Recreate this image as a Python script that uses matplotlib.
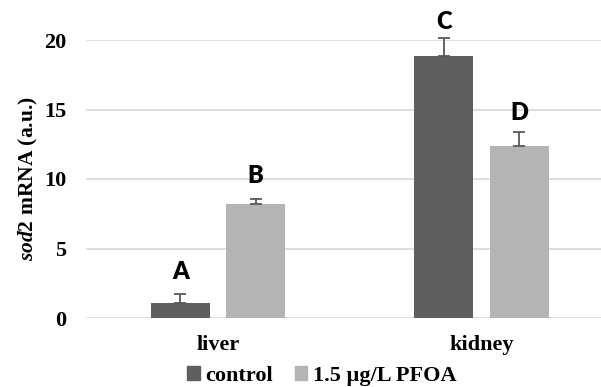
import matplotlib
matplotlib.use("Agg")
import matplotlib.pyplot as plt
from matplotlib.patches import Patch
import numpy as np

plt.rcParams["mathtext.fontset"] = "custom"
plt.rcParams["mathtext.it"] = "Liberation Serif:italic:bold"
plt.rcParams["mathtext.rm"] = "Liberation Serif:bold"
plt.rcParams["mathtext.bf"] = "Liberation Serif:bold"

categories = ["liver", "kidney"]
series_names = ["control", "1.5 µg/L PFOA"]
control_vals = [1.1, 18.85]
control_err = [0.6, 1.3]
pfoa_vals = [8.18, 12.37]
pfoa_err = [0.4, 1.0]
control_letters = ["A", "C"]
pfoa_letters = ["B", "D"]
yticks = [0, 5, 10, 15, 20]

W, H = 601, 387
fig = plt.figure(figsize=(W / 100, H / 100), dpi=100)
left_px, right_px, top_px, bot_px = 86, 601, 40, 318
ax = fig.add_axes([left_px / W, 1 - bot_px / H, (right_px - left_px) / W, (bot_px - top_px) / H])

c_dark = "#5f5f5f"
c_light = "#b4b4b4"
x = np.arange(len(categories))
off = 0.1425
bw = 0.224
ax.bar(x - off, control_vals, bw, color=c_dark, zorder=3)
ax.bar(x + off, pfoa_vals, bw, color=c_light, zorder=3)
ekw = dict(fmt="none", ecolor="#595959", elinewidth=1.3, capsize=4, capthick=1.3, zorder=4, clip_on=False)
ax.errorbar(x - off, control_vals, yerr=[[0] * 2, control_err], **ekw)
ax.errorbar(x + off, pfoa_vals, yerr=[[0] * 2, pfoa_err], **ekw)

lfont = dict(family="Lato", weight="heavy", size=17)
ctrl_gap_pt = [8, 3.5]
pfoa_gap_pt = [8.5, 5.7]
for xi, v, e, t, g in zip(x - off, control_vals, control_err, control_letters, ctrl_gap_pt):
    ax.annotate(t, (xi, v + e), xytext=(0, g), textcoords="offset points", ha="center", va="bottom", annotation_clip=False, **lfont)
for xi, v, e, t, g in zip(x + off, pfoa_vals, pfoa_err, pfoa_letters, pfoa_gap_pt):
    ax.annotate(t, (xi, v + e), xytext=(0, g), textcoords="offset points", ha="center", va="bottom", annotation_clip=False, **lfont)

sc = 263.5
ax.set_xlim((left_px - 218) / sc, (right_px - 218) / sc)
ax.set_ylim(0, 20)
ax.set_yticks(yticks)
ax.set_yticklabels([str(t) for t in yticks], family="Liberation Serif", weight="bold", fontsize=16)
ax.set_xticks(x)
ax.set_xticklabels(categories, family="Liberation Serif", weight="bold", fontsize=16)
ax.tick_params(axis="both", length=0)
ax.tick_params(axis="y", pad=14)
ax.tick_params(axis="x", pad=12)
ax.grid(axis="y", color="#d9d9d9", linewidth=1.2, zorder=0)
ax.set_axisbelow(True)
for s in ax.spines.values():
    s.set_visible(False)

fig.text(28 / W, 1 - 179 / H, r"$\mathit{sod2}$ mRNA (a.u.)", rotation=90, ha="center", va="center",
         family="Liberation Serif", weight="bold", fontsize=15.5)

handles = [Patch(color=c_dark), Patch(color=c_light)]
leg = fig.legend(handles, series_names, loc="center", bbox_to_anchor=(322 / W, 1 - 376 / H), ncol=2,
                 frameon=False, prop=dict(family="Liberation Serif", weight="bold", size=16),
                 handlelength=0.55, handleheight=0.55, handletextpad=0.25, columnspacing=1.0,
                 borderpad=0, borderaxespad=0)

fig.savefig("out.png", dpi=100)
